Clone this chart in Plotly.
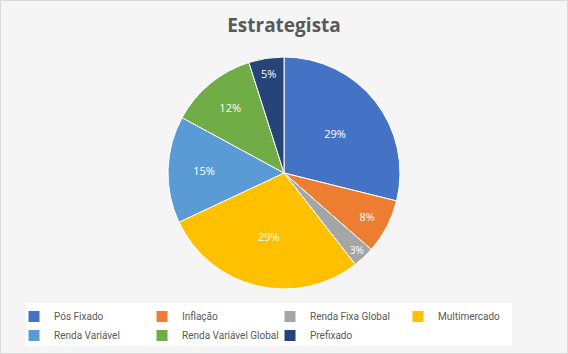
import plotly.graph_objects as go

categories = ["Pós Fixado", "Inflação", "Renda Fixa Global", "Multimercado",
              "Renda Variável", "Renda Variável Global", "Prefixado"]
values = [28.9, 7.6, 3.0, 28.6, 14.9, 12.2, 4.9]
colors = ["#4472C4", "#ED7D31", "#A5A5A5", "#FFC000", "#5B9BD5", "#70AD47", "#264478"]

W, H = 568, 354
ml, mr, mt, mb = 14, 0, 0, 0
pw = W - ml - mr
cx, cy, r = 284, 173, 116

fig = go.Figure(go.Pie(
    labels=categories, values=values, sort=False, direction="clockwise",
    rotation=0, marker=dict(colors=colors, line=dict(color="white", width=1)),
    textinfo="percent", texttemplate="%{percent:.0%}", textposition="inside",
    insidetextorientation="horizontal",
    textfont=dict(color="white", size=11, family="Open Sans"),
    domain=dict(x=[(cx - r - ml) / pw, (cx + r - ml) / pw],
                y=[(H - cy - r) / H, (H - cy + r) / H]),
    hoverinfo="label+percent",
))

fig.update_layout(
    width=W, height=H,
    margin=dict(l=ml, r=mr, t=mt, b=mb, autoexpand=False),
    paper_bgcolor="#f5f5f5",
    font=dict(family="Open Sans", color="#595959"),
    title=dict(text="<b>Estrategista</b>", x=0.5, xref="container", y=1 - 25 / H,
               yref="container", xanchor="center", yanchor="middle",
               font=dict(size=19, color="#595959", family="Open Sans")),
    legend=dict(orientation="h", x=0, xanchor="left",
                y=(H - 302) / H, yanchor="top",
                bgcolor="rgba(0,0,0,0)",
                font=dict(size=10, color="#595959",
                          family="Liberation Sans Narrow, Roboto"),
                entrywidth=83, entrywidthmode="pixels", traceorder="normal",
                itemwidth=30, tracegroupgap=0),
    shapes=[
        dict(type="rect", xref="paper", yref="paper", layer="below",
             x0=(26 - ml) / pw, x1=(512 - ml) / pw,
             y0=(H - 346) / H, y1=(H - 303) / H,
             line=dict(width=0), fillcolor="white"),
        dict(type="rect", xref="paper", yref="paper",
             x0=-ml / pw, x1=1 + mr / pw, y0=0, y1=1,
             line=dict(color="#d9d9d9", width=2), fillcolor="rgba(0,0,0,0)"),
    ],
)

fig.write_html("out.html")
